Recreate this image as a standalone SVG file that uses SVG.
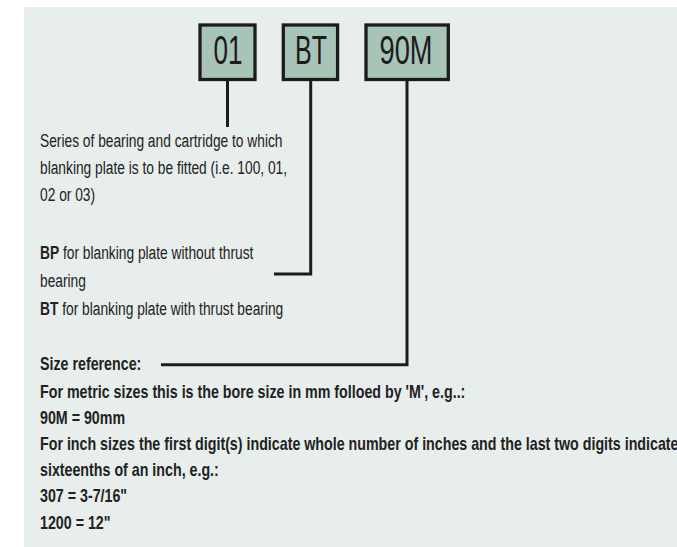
<svg xmlns="http://www.w3.org/2000/svg" width="677" height="547" viewBox="0 0 677 547">
<style>
.box{fill:#a8c4b7;stroke:#1c1c1c;stroke-width:3.3}
.code{font-family:"Liberation Sans",Arial,sans-serif;font-size:41px;fill:#1c1c1c}
.t{font-family:"Liberation Sans",Arial,sans-serif;font-size:19px;fill:#222}
.b{font-weight:bold}
.conn{fill:none;stroke:#1c1c1c;stroke-width:3}
</style>
<rect x="0" y="0" width="677" height="547" fill="#ffffff"/>
<rect x="24" y="7" width="653" height="540" fill="#e8eeec"/>
<g id="node-01">
<rect class="box" x="200" y="25" width="55" height="54.5"/>
<text class="code" x="228" y="63.5" text-anchor="middle" textLength="29" lengthAdjust="spacingAndGlyphs">01</text>
</g>
<g id="node-BT">
<rect class="box" x="283.3" y="25" width="54.3" height="54.5"/>
<text class="code" x="311" y="63.5" text-anchor="middle" textLength="32" lengthAdjust="spacingAndGlyphs">BT</text>
</g>
<g id="node-90M">
<rect class="box" x="366" y="25" width="82.3" height="54.5"/>
<text class="code" x="406" y="63.5" text-anchor="middle" textLength="53" lengthAdjust="spacingAndGlyphs">90M</text>
</g>
<g id="connectors">
<path class="conn" d="M227.5 81 V127"/>
<path class="conn" d="M310.7 81 V274 H274"/>
<path class="conn" d="M407 81 V364.7 H161"/>
</g>
<g id="desc-series" transform="translate(40,0) scale(0.725,1)">
<text class="t" x="0" y="147">Series of bearing and cartridge to which</text>
<text class="t" x="0" y="174">blanking plate is to be fitted (i.e. 100, 01,</text>
<text class="t" x="0" y="201">02 or 03)</text>
</g>
<g id="desc-type" transform="translate(40,0) scale(0.725,1)">
<text class="t" x="0" y="259"><tspan class="b">BP</tspan> for blanking plate without thrust</text>
<text class="t" x="0" y="287">bearing</text>
<text class="t" x="0" y="315"><tspan class="b">BT</tspan> for blanking plate with thrust bearing</text>
</g>
<g id="desc-size" transform="translate(40,0) scale(0.75,1)">
<text class="t b" x="0" y="370">Size reference:</text>
<text class="t b" x="0" y="398">For metric sizes this is the bore size in mm folloed by 'M', e.g..:</text>
<text class="t b" x="0" y="424">90M = 90mm</text>
<text class="t b" x="0" y="450">For inch sizes the first digit(s) indicate whole number of inches and the last two digits indicate</text>
<text class="t b" x="0" y="476">sixteenths of an inch, e.g.:</text>
<text class="t b" x="0" y="502">307 = 3-7/16"</text>
<text class="t b" x="0" y="529">1200 = 12"</text>
</g>
</svg>
